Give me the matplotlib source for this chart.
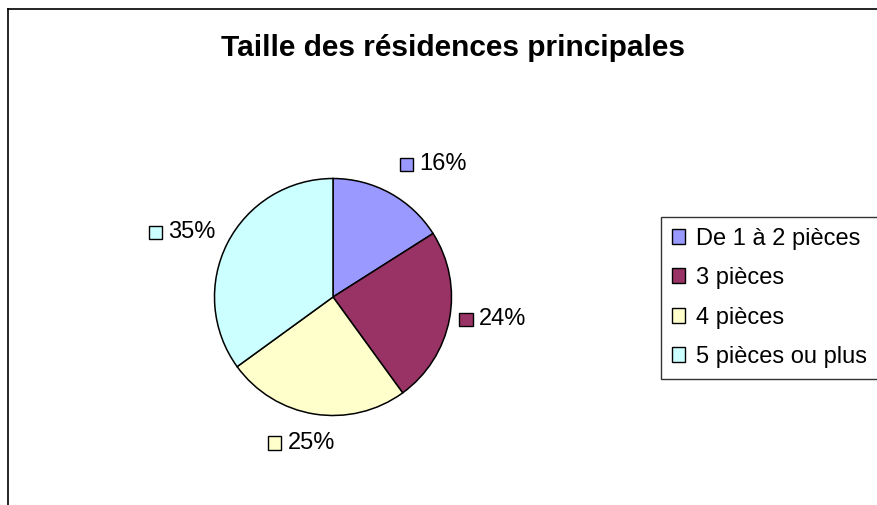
import matplotlib
matplotlib.use("Agg")
import matplotlib.pyplot as plt
import numpy as np
from matplotlib.lines import Line2D
from matplotlib.patches import Rectangle
from matplotlib.offsetbox import AnnotationBbox, DrawingArea, HPacker, TextArea

plt.rcParams["font.family"] = ["Liberation Sans", "DejaVu Sans"]

title = "Taille des résidences principales"
categories = ["De 1 à 2 pièces", "3 pièces", "4 pièces", "5 pièces ou plus"]
shares = [16, 24, 25, 35]
colors = ["#9999FF", "#993366", "#FFFFCC", "#CCFFFF"]

# label placement per slice: (offset px from rim point, box alignment)
label_offsets = [((10, 18), (0, 0)), ((10, 0), (0, 0.5)),
                 ((-13, -18), (0.5, 1)), ((-12, 11), (1, 0.5))]

W, H = 878, 505
fig = plt.figure(figsize=(W / 100, H / 100), dpi=100)

# chart frame (only top and left edges visible)
fig.add_artist(Line2D([8 / W, 1], [1 - 9 / H, 1 - 9 / H], color="black", lw=1.2))
fig.add_artist(Line2D([8 / W, 8 / W], [0, 1 - 9 / H], color="black", lw=1.2))

fig.text(453 / W, 1 - 48 / H, title, ha="center", va="center",
         fontsize=21.5, fontweight="bold")

cx, cy, r = 333, 297, 118.5
ax = fig.add_axes([(cx - r) / W, 1 - (cy + r) / H, 2 * r / W, 2 * r / H])
wedges, _ = ax.pie(shares, colors=colors, startangle=90, counterclock=False,
                   radius=1, wedgeprops=dict(edgecolor="black", linewidth=1.1))
ax.set_xlim(-1, 1)
ax.set_ylim(-1, 1)
ax.set_aspect("equal")
ax.axis("off")

fs = 17
for w, val, col, (off, align) in zip(wedges, shares, colors, label_offsets):
    mid = np.deg2rad((w.theta1 + w.theta2) / 2)
    da = DrawingArea(9.5, 9.5, 0, 0)
    da.add_artist(Rectangle((0, 0), 9.5, 9.5, facecolor=col, edgecolor="black", lw=1))
    ta = TextArea(f"{val}%", textprops=dict(fontsize=fs))
    box = HPacker(children=[da, ta], sep=4.5, align="center", pad=0)
    ab = AnnotationBbox(box, (np.cos(mid), np.sin(mid)), xycoords="data",
                        xybox=(off[0] * 0.72, off[1] * 0.72), boxcoords="offset points",
                        box_alignment=align, frameon=False, pad=0,
                        annotation_clip=False)
    ax.add_artist(ab)

handles = [Rectangle((0, 0), 1, 1, facecolor=c, edgecolor="black", lw=1) for c in colors]
leg = fig.legend(handles, categories, loc="upper left",
                 bbox_to_anchor=(661 / W, 1 - 217 / H), fontsize=fs,
                 frameon=True, fancybox=False, edgecolor="black",
                 handlelength=0.58, handleheight=0.58, handletextpad=0.45,
                 labelspacing=0.74, borderpad=0.45, borderaxespad=0)
leg.get_frame().set_linewidth(1.0)

fig.savefig("out.png", dpi=100)
